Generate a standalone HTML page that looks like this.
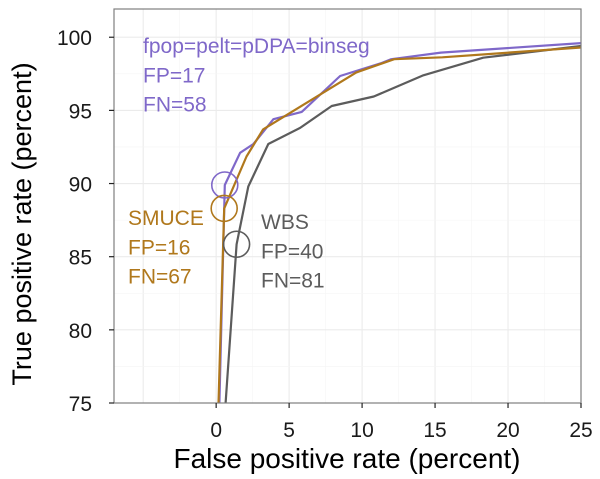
<!DOCTYPE html>
<html><head><meta charset="utf-8"><style>
body{margin:0;background:#fff;}
svg text{font-family:"Liberation Sans",sans-serif;}
</style></head><body>
<svg id="chart" width="600" height="474" viewBox="0 0 600 474" xmlns="http://www.w3.org/2000/svg">
<g id="grid"></g><g id="series"></g><g id="axes"></g><g id="labels"></g>
</svg>
<script>
const xTicks=[0,5,10,15,20,25];
const yTicks=[75,80,85,90,95,100];
const purpleFP=[0.22,0.59,1.64,2.55,3.92,5.86,8.49,11.4,12.0,15.4,25];
const purpleTP=[75,89.9,92.1,92.7,94.4,94.9,97.35,98.26,98.5,98.95,99.6];
const orangeFP=[0.16,0.55,2.08,3.22,9.6,12.2,15.5,25];
const orangeTP=[75,88.3,91.85,93.7,97.6,98.5,98.63,99.3];
const grayFP=[0.65,1.40,2.2,3.57,5.75,7.92,10.8,14.2,18.3,25];
const grayTP=[75,85.85,89.8,92.7,93.8,95.3,95.95,97.4,98.6,99.4];
const markerFP=[0.59,0.55,1.40];
const markerTP=[89.9,88.3,85.85];

const L=114,R=581,T=9,B=403;
const xMin=-7,xMax=25,yMin=75,yMax=101.93;
const sx=v=>L+(v-xMin)/(xMax-xMin)*(R-L);
const sy=v=>B-(v-yMin)/(yMax-yMin)*(B-T);
const NS="http://www.w3.org/2000/svg";
function mk(tag,attrs,parent){const e=document.createElementNS(NS,tag);for(const k in attrs)e.setAttribute(k,attrs[k]);parent.appendChild(e);return e;}
const grid=document.getElementById('grid'),ser=document.getElementById('series'),ax=document.getElementById('axes'),lab=document.getElementById('labels');

let bg=mk('rect',{x:L,y:T,width:R-L,height:B-T,fill:'#fff'},grid);


for(let v=-7.5;v<=25;v+=2.5){if(v<xMin)continue;const major=(v%5===0);
 const g=mk('line',{x1:sx(v),x2:sx(v),y1:T,y2:B,stroke:major?'#ebebeb':'#f5f5f5','stroke-width':major?1.1:0.6},grid);
 
 }
for(let v=75;v<=101.5;v+=2.5){const major=(v%5===0);
 const g=mk('line',{x1:L,x2:R,y1:sy(v),y2:sy(v),stroke:major?'#ebebeb':'#f5f5f5','stroke-width':major?1.1:0.6},grid);
 
 }

function line(fp,tp,color,name){
 const d=fp.map((v,i)=>(i?'L':'M')+sx(v).toFixed(1)+','+sy(tp[i]).toFixed(1)).join(' ');
 const p=mk('path',{d:d,fill:'none',stroke:color,'stroke-width':2.2,'stroke-linejoin':'round'},ser);
 
 
}
line(grayFP,grayTP,'#5c5c5c','wbs-line');
line(purpleFP,purpleTP,'#7f68c9','fpop-line');
line(orangeFP,orangeTP,'#b0781c','smuce-line');
const mcol=['#7f68c9','#b0781c','#5c5c5c'];
const mname=['fpop-marker','smuce-marker','wbs-marker'];
markerFP.forEach((v,i)=>{const c=mk('circle',{cx:sx(v),cy:sy(markerTP[i]),r:13,fill:'none',stroke:mcol[i],'stroke-width':1.6},ser);
 
 });

let fr=mk('rect',{x:L,y:T,width:R-L,height:B-T,fill:'none',stroke:'#7f7f7f','stroke-width':1.2},ax);


xTicks.forEach(v=>{const t=mk('line',{x1:sx(v),x2:sx(v),y1:B,y2:B+5,stroke:'#222','stroke-width':1.2},ax);
 
 
 const tx=mk('text',{x:sx(v),y:B+34,'text-anchor':'middle','font-size':21,fill:'#1a1a1a'},ax);tx.textContent=v;
 
 });
yTicks.forEach(v=>{const t=mk('line',{x1:L-5,x2:L,y1:sy(v),y2:sy(v),stroke:'#222','stroke-width':1.2},ax);
 
 
 const tx=mk('text',{x:L-22,y:sy(v)+8,'text-anchor':'end','font-size':21,fill:'#1a1a1a'},ax);tx.textContent=v;
 
 });
let xt=mk('text',{x:347,y:468,'text-anchor':'middle','font-size':28,fill:'#000'},ax);xt.textContent='False positive rate (percent)';


let yt=mk('text',{x:0,y:0,'text-anchor':'middle','font-size':27,fill:'#000',transform:'translate(31,224) rotate(-90)'},ax);yt.textContent='True positive rate (percent)';



function block(lines,x,y0,color,name){lines.forEach((s,i)=>{const t=mk('text',{x:x,y:y0+i*29.3,'font-size':21,fill:color},lab);t.textContent=s;
 
 });}
block(['fpop=pelt=pDPA=binseg','FP=17','FN=58'],143,53,'#7f68c9','fpop-label');
block(['SMUCE','FP=16','FN=67'],128,225,'#b0781c','smuce-label');
block(['WBS','FP=40','FN=81'],261,229,'#5c5c5c','wbs-label');
</script>
</body></html>
